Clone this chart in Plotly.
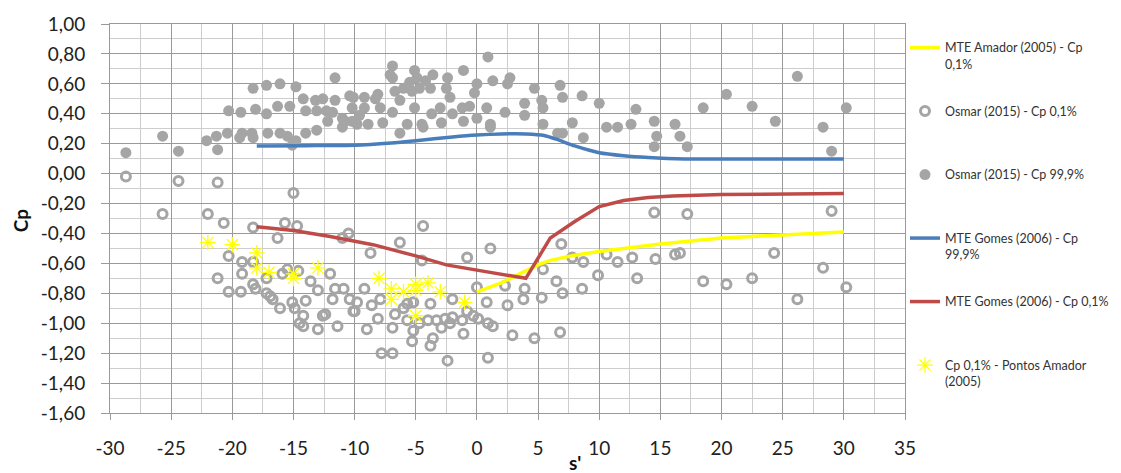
import plotly.graph_objects as go

# ---------------- data ----------------
# MTE Amador (2005) - Cp 0,1%  (yellow line)
amador_line_s = [0, 1, 2, 3, 4, 5, 6, 7, 8, 10, 15, 20, 25, 30]
amador_line_cp = [-0.79, -0.76, -0.73, -0.69, -0.65, -0.61, -0.58, -0.56, -0.545, -0.52, -0.47, -0.43, -0.41, -0.39]

# MTE Gomes (2006) - Cp 99,9%  (blue line)
gomes999_s = [-18, -14, -10, -7, -5, -2, 0, 2, 4, 5.5, 6.5, 8, 10, 12, 14, 17, 20, 25, 30]
gomes999_cp = [0.185, 0.187, 0.19, 0.205, 0.22, 0.245, 0.258, 0.265, 0.265, 0.255, 0.23, 0.185, 0.14, 0.12, 0.108, 0.098, 0.097, 0.097, 0.097]

# MTE Gomes (2006) - Cp 0,1%  (red line)
gomes01_s = [-18, -15, -12, -8.5, -5, -2.5, 0, 2, 4, 6, 8, 10, 12, 14, 16, 20, 25, 30]
gomes01_cp = [-0.355, -0.38, -0.42, -0.475, -0.55, -0.61, -0.645, -0.675, -0.70, -0.43, -0.32, -0.22, -0.18, -0.16, -0.15, -0.14, -0.135, -0.133]

# Cp 0,1% - Pontos Amador (2005)  (yellow stars)
amador_pts_s = [-22, -20, -18, -18, -17, -15, -15, -13, -8, -7, -7, -6, -5, -5, -4, -5, -3, -1]
amador_pts_cp = [-0.46, -0.475, -0.53, -0.63, -0.66, -0.67, -0.70, -0.63, -0.70, -0.77, -0.84, -0.79, -0.74, -0.78, -0.73, -0.95, -0.79, -0.86]

# Osmar (2015) - Cp 0,1%  (open circles)
osmar01_s = [-28.7, -24.4, -25.7, -22.0, -21.2, -20.7, -18.3, -16.3, -15.7, -15.0, -14.7,
             -20.3, -21.2, -20.3, -19.2, -19.2, -19.3, -18.3, -18.1, -18.3, -17.2, -16.7,
             -17.2, -16.1, -15.5, -15.9, -15.1, -14.9, -14.5, -16.9, -14.6, -14.0, -14.2,
             -14.2, -13.0, -13.0, -12.6, -13.6, -12.0, -11.8, -11.4, -11.6, -10.9, -11.0,
             -10.5, -10.4, -10.0, -9.2, -9.0, -8.7, -8.6, -8.1, -7.9, -7.8, -6.9, -6.9,
             -6.7, -6.3, -6.0, -5.7, -5.7, -5.2, -5.3, -5.2, -4.5, -4.4, -4.7, -4.0, -3.8,
             -3.8, -3.6, -3.3, -2.9, -2.6, -2.2, -2.0, -2.0, -2.4, -1.2, -1.1, -0.8, -0.8,
             -0.3, 0.0, 0.1, 0.8, 0.9, 1.3, 0.9, 1.1, 2.3, 2.5, 2.9, 3.9, 3.8, 4.7, 5.4,
             5.3, 6.5, 7.0, 6.8, 6.9, 7.8, 8.6, 8.7, 9.9, 10.6, 11.5, 12.7, 13.1, 14.6,
             16.2, 16.6, 18.5, 20.4, 22.5, 24.3, 26.2, 28.3, 30.2, 14.5, 17.2, 29.0,
             -12.4, -9.8, -10.1]
osmar01_cp = [-0.02, -0.05, -0.27, -0.27, -0.06, -0.33, -0.36, -0.43, -0.33, -0.13, -0.35,
              -0.55, -0.70, -0.79, -0.59, -0.67, -0.79, -0.59, -0.77, -0.74, -0.80, -0.84,
              -0.70, -0.90, -0.64, -0.67, -0.86, -0.90, -1.00, -0.82, -0.65, -0.85, -0.95,
              -1.02, -1.04, -0.78, -0.95, -0.72, -0.67, -0.84, -1.02, -0.77, -0.77, -0.43,
              -0.40, -0.84, -0.92, -0.77, -1.04, -0.53, -0.88, -0.97, -0.84, -1.20, -1.20, -1.03,
              -0.94, -0.46, -0.90, -0.87, -0.98, -0.86, -1.12, -1.05, -0.58, -0.35, -1.00, -0.98, -0.87,
              -1.15, -1.10, -0.98, -1.03, -0.97, -1.00, -0.84, -0.96, -1.25, -0.98, -1.07, -0.56, -0.92,
              -0.95, -0.76, -0.97, -0.86, -1.00, -1.02, -1.23, -0.50, -0.75, -0.88, -1.08, -0.77, -0.84, -1.10, -0.64,
              -0.83, -0.72, -0.80, -1.06, -0.47, -0.56, -0.77, -0.59, -0.68, -0.54, -0.59, -0.56, -0.70, -0.57,
              -0.54, -0.53, -0.72, -0.74, -0.70, -0.53, -0.84, -0.63, -0.76, -0.26, -0.27, -0.25,
              -0.94, -0.86, -0.92]

# Osmar (2015) - Cp 99,9%  (filled circles)
osmar999_s = [-28.7, -25.7, -24.4, -22.1, -21.3, -21.2, -20.4, -20.3, -19.3, -19.2, -19.4, -18.4,
              -18.3, -18.1, -18.3, -17.2, -17.2, -17.1, -16.1, -16.3, -16.1, -15.5, -15.3, -14.8,
              -15.1, -14.8, -14.2, -14.0, -14.0, -13.2, -13.1, -13.1, -12.6, -12.3, -12.2, -11.6,
              -11.6, -11.8, -11.0, -11.0, -10.8, -10.4, -10.2, -10.2, -9.8, -10.1, -9.6, -9.2,
              -9.2, -8.9, -8.3, -8.1, -7.9, -7.7, -7.1, -6.9, -6.9, -6.7, -6.9, -6.3, -6.3,
              -6.0, -5.7, -5.5, -5.3, -5.1, -5.1, -4.9, -4.7, -4.5, -4.4, -4.2, -3.8, -3.7,
              -3.6, -3.0, -2.9, -2.5, -2.4, -2.2, -2.0, -1.1, -1.2, -1.1, -0.6, -0.2, 0.0,
              0.0, 0.8, 0.9, 1.1, 1.1, 1.3, 2.3, 2.7, 2.5, 3.9, 3.9, 4.7, 5.3, 5.4, 5.4,
              6.6, 6.8, 7.0, 7.0, 7.8, 8.6, 8.7, 10.0, 10.6, 11.5, 12.6, 13.0, 14.5, 14.7,
              14.5, 16.2, 16.6, 17.2, 18.5, 20.4, 22.5, 24.4, 26.2, 28.3, 29.0, 30.2]
osmar999_cp = [0.14, 0.25, 0.15, 0.22, 0.25, 0.16, 0.27, 0.42, 0.41, 0.27, 0.24, 0.27,
               0.57, 0.43, 0.24, 0.59, 0.40, 0.27, 0.60, 0.45, 0.27, 0.25, 0.45, 0.58,
               0.19, 0.22, 0.50, 0.42, 0.27, 0.49, 0.42, 0.29, 0.50, 0.42, 0.35, 0.64,
               0.49, 0.41, 0.37, 0.31, 0.35, 0.52, 0.44, 0.35, 0.33, 0.51, 0.39, 0.44,
               0.51, 0.33, 0.50, 0.53, 0.44, 0.34, 0.66, 0.72, 0.64, 0.55, 0.41, 0.49, 0.27,
               0.57, 0.33, 0.61, 0.55, 0.69, 0.44, 0.64, 0.57, 0.33, 0.31, 0.62, 0.57, 0.40,
               0.66, 0.44, 0.34, 0.57, 0.64, 0.51, 0.40, 0.69, 0.44, 0.35, 0.45, 0.54, 0.60,
               0.37, 0.44, 0.78, 0.33, 0.31, 0.62, 0.41, 0.64, 0.60, 0.47, 0.39, 0.57, 0.49, 0.44, 0.33,
               0.27, 0.59, 0.51, 0.27, 0.34, 0.52, 0.24, 0.47, 0.31, 0.31, 0.33, 0.43, 0.35, 0.25,
               0.18, 0.33, 0.25, 0.18, 0.44, 0.53, 0.45, 0.35, 0.65, 0.31, 0.15, 0.44]

x_tickvals = [-30, -25, -20, -15, -10, -5, 0, 5, 10, 15, 20, 25, 30, 35]
x_ticktext = ["-30", "-25", "-20", "-15", "-10", "-5", "0", "5", "10", "15", "20", "25", "30", "35"]
y_tickvals = [1.0, 0.8, 0.6, 0.4, 0.2, 0.0, -0.2, -0.4, -0.6, -0.8, -1.0, -1.2, -1.4, -1.6]
y_ticktext = ["1,00", "0,80", "0,60", "0,40", "0,20", "0,00", "-0,20", "-0,40", "-0,60",
              "-0,80", "-1,00", "-1,20", "-1,40", "-1,60"]

GRAY = "#a5a5a5"
BLUE = "#4a7ebb"
RED = "#be4b48"
YELLOW = "#ffff00"
PAD = "<br>\u00a0"

fig = go.Figure()

fig.add_trace(go.Scatter(x=osmar01_s, y=osmar01_cp, mode="markers",
                         name="Osmar (2015) - Cp 0,1%" + PAD, legendrank=2, legendgroup="b",
                         marker=dict(symbol="circle-open", size=9, color=GRAY,
                                     line=dict(width=3, color=GRAY))))
fig.add_trace(go.Scatter(x=osmar999_s, y=osmar999_cp, mode="markers",
                         name="Osmar (2015) - Cp 99,9%" + PAD, legendrank=3, legendgroup="c",
                         marker=dict(symbol="circle", size=11, color=GRAY)))
fig.add_trace(go.Scatter(x=amador_line_s, y=amador_line_cp, mode="lines",
                         name="MTE Amador (2005) - Cp<br>0,1%", legendrank=1, legendgroup="a",
                         line=dict(color=YELLOW, width=3.5)))
fig.add_trace(go.Scatter(x=gomes999_s, y=gomes999_cp, mode="lines",
                         name="MTE Gomes (2006) - Cp<br>99,9%", legendrank=4, legendgroup="d",
                         line=dict(color=BLUE, width=3.5, shape="spline", smoothing=0.6)))
fig.add_trace(go.Scatter(x=gomes01_s, y=gomes01_cp, mode="lines",
                         name="MTE Gomes (2006) - Cp 0,1%" + PAD, legendrank=5, legendgroup="e",
                         line=dict(color=RED, width=3.5)))
fig.add_trace(go.Scatter(x=amador_pts_s, y=amador_pts_cp, mode="markers",
                         name="Cp 0,1% - Pontos Amador<br>(2005)", legendrank=6, legendgroup="f",
                         marker=dict(symbol="asterisk-open", size=13, color=YELLOW,
                                     line=dict(width=1.3, color=YELLOW))))

MAJ = "#9a9a9a"
MIN = "#cdcdcd"
W, H = 1113, 465
fig.update_layout(
    width=W, height=H,
    margin=dict(l=102, r=216, t=16, b=60),
    paper_bgcolor="white", plot_bgcolor="white",
    font=dict(family="Lato, Open Sans, sans-serif", color="#222222"),
    legend=dict(xref="container", yref="paper", x=897 / W, xanchor="left",
                y=0.977, yanchor="top", valign="top",
                tracegroupgap=28, itemwidth=30,
                font=dict(size=12.5, color="#333333", family="Lato, Open Sans, sans-serif"),
                bgcolor="rgba(0,0,0,0)"),
    showlegend=True,
    annotations=[
        dict(text="<b>s'</b>", xref="paper", yref="paper", x=0.585, y=-0.127,
             xanchor="center", yanchor="middle", showarrow=False,
             font=dict(size=19, color="#111111")),
        dict(text="<b>Cp</b>", xref="paper", yref="paper", x=-0.113, y=0.496,
             xanchor="center", yanchor="middle", showarrow=False, textangle=-90,
             font=dict(size=19, color="#111111")),
    ],
)
fig.update_xaxes(range=[-30, 35], tickmode="array", tickvals=x_tickvals, ticktext=x_ticktext,
                 automargin=False,
                 showgrid=True, gridcolor=MAJ, gridwidth=1, zeroline=False,
                 showline=True, linecolor=MAJ, mirror=True,
                 ticks="outside", ticklen=6, tickcolor=MAJ, ticklabelstandoff=12,
                 tickfont=dict(size=19, color="#222222"),
                 minor=dict(tickmode="linear", tick0=0, dtick=2.5, showgrid=True, gridcolor=MIN, ticks=""))
fig.update_yaxes(range=[-1.6, 1.0], tickmode="array", tickvals=y_tickvals, ticktext=y_ticktext,
                 automargin=False,
                 showgrid=True, gridcolor=MAJ, gridwidth=1, zeroline=False,
                 showline=True, linecolor=MAJ, mirror=True,
                 ticks="outside", ticklen=8, tickcolor=MAJ, ticklabelstandoff=12,
                 tickfont=dict(size=19, color="#222222"),
                 minor=dict(tickmode="linear", tick0=0, dtick=0.1, showgrid=True, gridcolor=MIN, ticks=""))

fig.write_html("out.html")
